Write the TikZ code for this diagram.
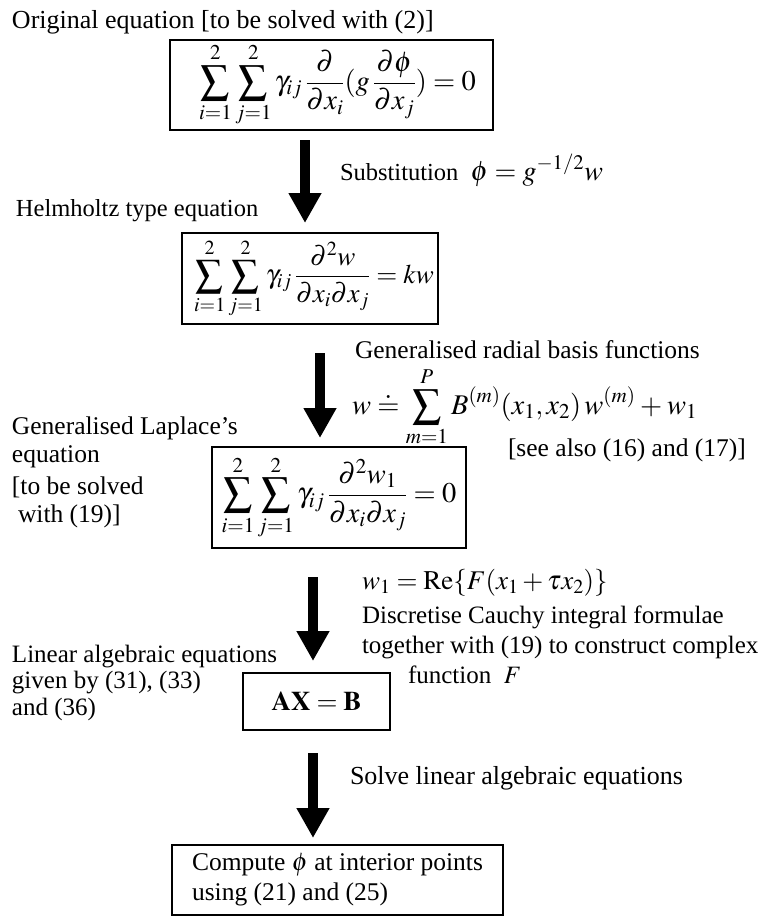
\documentclass[tikz,border=0pt]{standalone}
\usepackage{mathptmx}
\usepackage[no-math]{fontspec}
\setmainfont{Liberation Serif}
\usetikzlibrary{arrows.meta}
\newcommand{\eqsetup}{\fontsize{28.5}{32}\selectfont\thickmuskip=4mu\relax\medmuskip=3mu\relax}
\newcommand{\eqsetupb}{\fontsize{27}{32}\selectfont\thickmuskip=4mu\relax\medmuskip=3mu\relax}
\newcommand{\bigmath}[1]{{\fontsize{28}{30}\selectfont\thickmuskip=4mu\relax$#1$}}
\begin{document}
\begin{tikzpicture}[x=1pt,y=-1pt,
  every node/.style={inner sep=0pt, outer sep=0pt, font=\fontsize{25.5}{30}\selectfont},
  eqbox/.style={draw=black, line width=1.2pt, anchor=center},
  eqfont/.style={font=\eqsetup},
  lbl/.style={anchor=base west, align=left},
  bigarrow/.style={line width=10pt, -{Triangle[width=31pt,length=30pt]}}]
\useasboundingbox (0,0) rectangle (765,916);

% titles and labels
\node[lbl, font=\fontsize{26}{30}\selectfont] (t1) at (12,28) {Original equation [to be solved with (2)]};
\node[lbl, font=\fontsize{24.5}{28}\selectfont] (sub) at (340,180) {Substitution \ \bigmath{\phi = g^{-1/2}w}};
\node[lbl, font=\fontsize{24.5}{30}\selectfont] (t2) at (16,216) {Helmholtz type equation};
\node[lbl] (rbf) at (355,358) {Generalised radial basis functions};
\node[anchor=west, eqfont] (wf) at (352,407) {$\displaystyle w \doteq \sum_{m=1}^{P} B^{(m)}(x_1,x_2)\,w^{(m)} + w_1$};
\node[lbl] (see) at (508,456) {[see also (16) and (17)]};
\node[anchor=north west, align=left, font=\fontsize{25.5}{27.5}\selectfont] (t3) at (12,417)
  {Generalised Laplace's\\ equation\\[5pt] {[}to be solved\\ \hspace{6pt}with (19)]};
\node[lbl, font=\fontsize{27}{30}\selectfont] (re) at (362,589) {$w_1 = \mathrm{Re}\{F(x_1 + \tau x_2)\}$};
\node[anchor=north west, align=left, font=\fontsize{25}{30}\selectfont] (dc) at (362,606)
  {Discretise Cauchy integral formulae\\ together with (19) to construct complex\\ \hspace{46pt}function \ $F$};
\node[anchor=north west, align=left, font=\fontsize{25}{26.5}\selectfont] (t4) at (12,645)
  {Linear algebraic equations\\ given by (31), (33)\\ and (36)};
\node[lbl, font=\fontsize{26}{30}\selectfont] (solve) at (350,784) {Solve linear algebraic equations};

% boxes
\node[eqbox, eqfont, minimum width=323pt, minimum height=90pt] (eq1) at (331.5,85)
  {\hspace{12pt}$\displaystyle \sum_{i=1}^{2}\sum_{j=1}^{2}\gamma_{ij}\,\frac{\partial}{\partial x_i}(g\,\frac{\partial\phi}{\partial x_j})=0$};
\node[eqbox, font=\eqsetupb, minimum width=256pt, minimum height=91pt] (eq2) at (310,278.5)
  {\hspace{8pt}$\displaystyle \sum_{i=1}^{2}\sum_{j=1}^{2}\gamma_{ij}\,\frac{\partial^2 w}{\partial x_i\partial x_j}=kw$};
\node[eqbox, eqfont, minimum width=254pt, minimum height=101pt] (eq3) at (339,497.5)
  {$\displaystyle \sum_{i=1}^{2}\sum_{j=1}^{2}\gamma_{ij}\,\frac{\partial^2 w_1}{\partial x_i\partial x_j}=0$};
\node[eqbox, font=\fontsize{27}{30}\selectfont, minimum width=147pt, minimum height=57pt] (ax) at (316.5,701.5)
  {$\mathbf{AX}=\mathbf{B}$};
\node[eqbox, minimum width=331pt, minimum height=70pt, align=left,
  font=\fontsize{25.5}{30}\selectfont] (res) at (337.5,880)
  {Compute $\phi$ at interior points\\ using (21) and (25)};

% arrows
\coordinate (a1s) at (305,140); \coordinate (a1e) at (305,223);
\coordinate (a2s) at (320,353); \coordinate (a2e) at (320,438);
\coordinate (a3s) at (313,577); \coordinate (a3e) at (313,661);
\coordinate (a4s) at (313,753); \coordinate (a4e) at (313,838);
\draw[bigarrow] (a1s) -- (a1e);
\draw[bigarrow] (a2s) -- (a2e);
\draw[bigarrow] (a3s) -- (a3e);
\draw[bigarrow] (a4s) -- (a4e);
\end{tikzpicture}
\end{document}
